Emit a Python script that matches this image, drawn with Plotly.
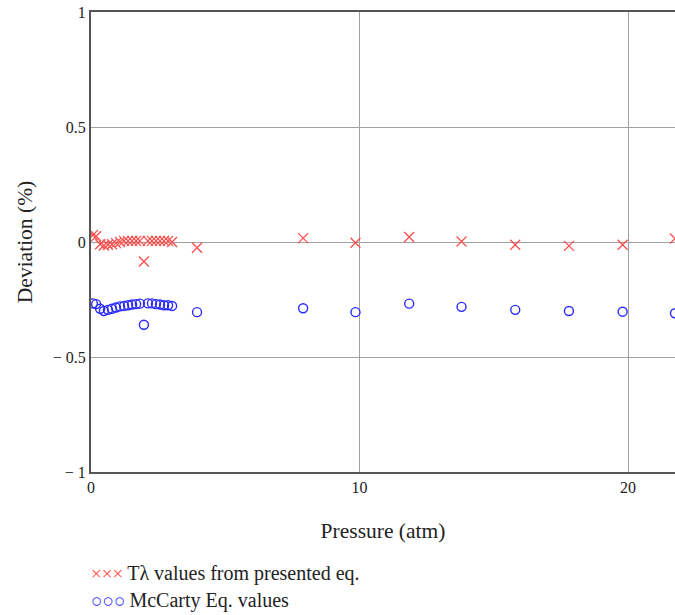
import plotly.graph_objects as go

# Pressure (atm)
pressure = [0.07, 0.19, 0.34, 0.48, 0.63, 0.78, 0.93, 1.08, 1.23, 1.38, 1.53,
            1.68, 1.82, 1.97, 2.12, 2.27, 2.42, 2.57, 2.72, 2.87, 3.02,
            3.95, 7.9, 9.85, 11.85, 13.8, 15.8, 17.8, 19.8, 21.75]
# Deviation (%) - T lambda values from presented eq.
dev_presented = [0.03, 0.025, -0.01, -0.015, -0.012, -0.01, -0.005, 0.0, 0.005, 0.005, 0.005,
                 0.005, 0.005, -0.085, 0.005, 0.005, 0.005, 0.005, 0.005, 0.005, 0.0,
                 -0.025, 0.017, -0.003, 0.022, 0.002, -0.012, -0.017, -0.012, 0.015]
# Deviation (%) - McCarty Eq. values
dev_mccarty = [-0.267, -0.27, -0.29, -0.3, -0.295, -0.29, -0.285, -0.28, -0.278, -0.275, -0.272,
               -0.27, -0.268, -0.36, -0.267, -0.267, -0.27, -0.272, -0.275, -0.275, -0.278,
               -0.305, -0.288, -0.305, -0.268, -0.282, -0.295, -0.3, -0.303, -0.31]

y_tickvals = [1, 0.5, 0, -0.5, -1]
y_ticktext = ["1", "0.5", "0", "\u2212 0.5", "\u2212 1"]
x_tickvals = [0, 10, 20]
x_ticktext = ["0", "10", "20"]

series_names = ["T\u03bb values from presented eq.", "McCarty Eq. values"]
series_colors = ["#ff4d4d", "#2a2aff"]

FONT = "Liberation Serif, Times New Roman, serif"

fig = go.Figure()
fig.add_trace(go.Scatter(
    x=pressure, y=dev_presented, mode="markers", name=series_names[0],
    marker=dict(symbol="x-thin-open", size=10, color=series_colors[0],
                line=dict(color=series_colors[0], width=1.3)),
    showlegend=False))
fig.add_trace(go.Scatter(
    x=pressure, y=dev_mccarty, mode="markers", name=series_names[1],
    marker=dict(symbol="circle-open", size=9, color=series_colors[1],
                line=dict(color=series_colors[1], width=1.4)),
    showlegend=False))

fig.update_layout(
    width=675, height=615,
    margin=dict(l=91, r=0, t=12, b=143),
    paper_bgcolor="white", plot_bgcolor="white",
    font=dict(family=FONT, color="#222", size=16),
)
fig.update_xaxes(
    range=[0, 21.75], tickvals=x_tickvals, ticktext=x_ticktext,
    showgrid=True, gridcolor="#a0a0a0", gridwidth=1,
    zeroline=False, showline=True, linecolor="#555", linewidth=2, mirror=True,
    ticks="", tickfont=dict(size=16, family=FONT, color="#222"),
    title=dict(text="Pressure (atm)", font=dict(size=21.5, family=FONT, color="#222"), standoff=28),
)
fig.update_yaxes(
    range=[-1, 1], tickvals=y_tickvals, ticktext=y_ticktext,
    showgrid=True, gridcolor="#a0a0a0", gridwidth=1,
    zeroline=True, zerolinecolor="#a0a0a0", zerolinewidth=1,
    showline=True, linecolor="#555", linewidth=2, mirror=False,
    ticks="", tickfont=dict(size=16, family=FONT, color="#222"),
    title=dict(text="Deviation (%)", font=dict(size=21.5, family=FONT, color="#222"), standoff=14),
)

legend_y = [573, 600]
symbols = ["\u00d7\u00d7\u00d7", "\u25cb\u25cb\u25cb"]
for i in range(2):
    fig.add_annotation(
        xref="paper", yref="paper", x=-0.003, y=(615 - 143 - legend_y[i]) / (615 - 12 - 143),
        xanchor="left", yanchor="middle", showarrow=False,
        text=f"<span style='color:{series_colors[i]};font-size:19px'>{symbols[i]}</span>&#8201;{series_names[i]}",
        font=dict(size=20, family=FONT, color="#222"))

fig.write_html("out.html")
